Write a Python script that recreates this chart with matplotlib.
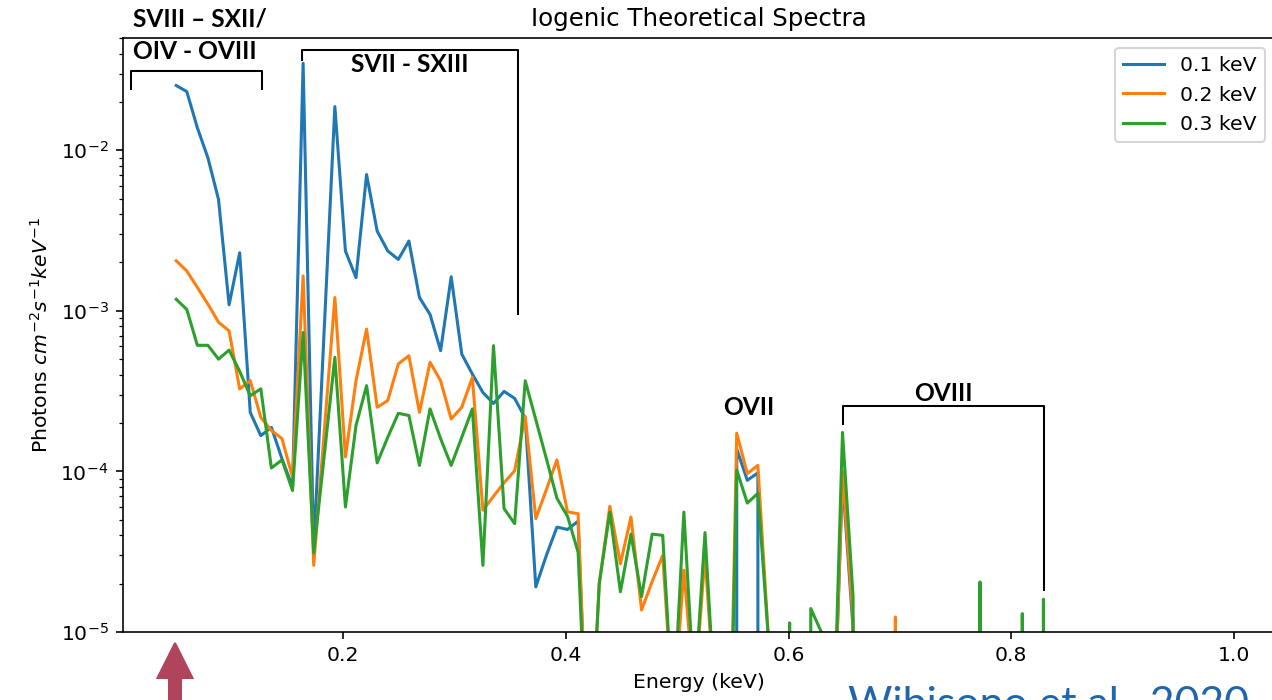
import numpy as np
import matplotlib
matplotlib.use('Agg')
import matplotlib.pyplot as plt
from matplotlib.patches import FancyArrow

# energy grid (keV)
energy = [0.0500, 0.0595, 0.0690, 0.0785, 0.0880, 0.0975, 0.1070, 0.1165, 0.1260, 0.1355,
          0.1450, 0.1545, 0.1640, 0.1735, 0.1830, 0.1925, 0.2020, 0.2115, 0.2210, 0.2305,
          0.2400, 0.2495, 0.2590, 0.2685, 0.2780, 0.2875, 0.2970, 0.3065, 0.3160, 0.3255,
          0.3350, 0.3445, 0.3540, 0.3635, 0.3730, 0.3825, 0.3920, 0.4015, 0.4110, 0.4205,
          0.4300, 0.4395, 0.4490, 0.4585, 0.4680, 0.4775, 0.4870, 0.4965, 0.5060, 0.5155,
          0.5250, 0.5345, 0.5440, 0.5535, 0.5630, 0.5725, 0.5820, 0.5915, 0.6010, 0.6105,
          0.6200, 0.6295, 0.6390, 0.6485, 0.6580, 0.6675, 0.6770, 0.6865, 0.6960, 0.7055,
          0.7150, 0.7245, 0.7340, 0.7435, 0.7530, 0.7625, 0.7720, 0.7815, 0.7910, 0.8005,
          0.8100, 0.8195, 0.8290, 0.8385]

# photons cm^-2 s^-1 keV^-1
flux_01 = [2.53e-2, 2.32e-2, 1.38e-2, 8.96e-3, 4.94e-3, 1.09e-3, 2.30e-3, 2.33e-4, 1.67e-4, 1.88e-4,
           1.20e-4, 8.0e-5, 3.48e-2, 3.2e-5, 7.8e-4, 1.87e-2, 2.36e-3, 1.61e-3, 7.06e-3, 3.14e-3,
           2.36e-3, 2.09e-3, 2.72e-3, 1.21e-3, 9.5e-4, 5.65e-4, 1.63e-3, 5.38e-4, 4.04e-4, 3.10e-4,
           2.65e-4, 3.15e-4, 2.85e-4, 2.15e-4, 1.91e-5, 3.0e-5, 4.5e-5, 4.35e-5, 4.9e-5, 1e-6,
           0, 0, 0, 0, 0, 0, 0, 0, 0, 0,
           0, 0, 0, 1.38e-4, 8.8e-5, 9.8e-5, 0, 0, 0, 0,
           0, 0, 1e-6, 9.0e-5, 1.05e-5, 0, 0, 0, 0, 0,
           0, 0, 0, 0, 0, 0, 0, 0, 0, 0,
           0, 0, 0, 0]
flux_02 = [2.05e-3, 1.77e-3, 1.40e-3, 1.10e-3, 8.5e-4, 7.5e-4, 3.26e-4, 3.68e-4, 2.17e-4, 1.80e-4,
           1.60e-4, 9.2e-5, 1.65e-3, 2.6e-5, 1.78e-4, 1.21e-3, 1.23e-4, 3.67e-4, 7.7e-4, 2.51e-4,
           2.76e-4, 4.67e-4, 5.25e-4, 2.33e-4, 4.78e-4, 3.67e-4, 2.12e-4, 2.51e-4, 3.85e-4, 5.73e-5,
           7.0e-5, 8.5e-5, 1.01e-4, 2.2e-4, 5.08e-5, 7.7e-5, 1.18e-4, 5.6e-5, 5.45e-5, 1e-6,
           2.0e-5, 6.07e-5, 2.66e-5, 5.2e-5, 1.37e-5, 2.06e-5, 3.0e-5, 3e-6, 2.43e-5, 4e-6,
           3.0e-5, 3e-6, 1e-7, 1.73e-4, 9.7e-5, 1.09e-4, 9e-6, 0, 0, 0,
           0, 0, 1e-6, 1.0e-4, 1.2e-5, 0, 0, 0, 1.24e-5, 0,
           0, 0, 0, 0, 0, 0, 0, 0, 0, 0,
           0, 0, 0, 0]
flux_03 = [1.18e-3, 1.02e-3, 6.1e-4, 6.1e-4, 5.0e-4, 5.7e-4, 4.2e-4, 2.96e-4, 3.27e-4, 1.05e-4,
           1.18e-4, 7.6e-5, 7.33e-4, 3.1e-5, 1.26e-4, 5.13e-4, 6.0e-5, 1.93e-4, 3.42e-4, 1.13e-4,
           1.63e-4, 2.3e-4, 2.23e-4, 1.09e-4, 2.45e-4, 1.6e-4, 1.09e-4, 1.63e-4, 2.45e-4, 2.6e-5,
           6.07e-4, 5.86e-5, 4.73e-5, 3.67e-4, 2.1e-4, 1.2e-4, 6.8e-5, 5.25e-5, 3.14e-5, 1e-6,
           2.0e-5, 5.58e-5, 1.78e-5, 4.07e-5, 1.66e-5, 4.07e-5, 4.0e-5, 3e-6, 5.58e-5, 4e-6,
           4.16e-5, 3e-6, 1e-7, 1.02e-4, 6.35e-5, 7.3e-5, 9e-6, 0, 1.14e-5, 0,
           1.4e-5, 1.0e-5, 1e-6, 1.75e-4, 1.66e-5, 0, 0, 0, 0, 0,
           0, 0, 0, 0, 0, 0, 2.05e-5, 0, 0, 0,
           1.3e-5, 0, 1.6e-5, 0]
labels = ['0.1 keV', '0.2 keV', '0.3 keV']

W, H, DPI = 1273, 700, 147


def bracket(ax, x0, x1, y, y_left, y_right):
  ax.plot([x0, x0, x1, x1], [y_left, y, y, y_right], color='black', lw=1, clip_on=False)


def draw():
  fig = plt.figure(figsize=(W / DPI, H / DPI), dpi=DPI)
  ax = fig.add_axes([123 / W, 68 / H, 1152 / W, 594 / H])
  for flux, lab in zip([flux_01, flux_02, flux_03], labels):
    ax.plot(energy, flux, label=lab)
  ax.set_yscale('log', nonpositive='clip')
  ax.set_ylim(1e-5, 0.05)
  ax.set_xlim(0.0022, 1.037)
  ax.set_xticks([0.2, 0.4, 0.6, 0.8, 1.0])
  ax.set_xlabel('Energy (keV)')
  ax.set_ylabel('Photons $cm^{-2}s^{-1}keV^{-1}$')
  ax.set_title('Iogenic Theoretical Spectra')
  ax.legend(loc='upper right')

  # line identifications
  bold = dict(fontsize=12, fontweight='bold', family='Lato', clip_on=False)
  ax.text(0.0112, 0.066, 'SVIII – SXII/', ha='left', va='center', **bold)
  ax.text(0.0112, 0.0412, 'OIV - OVIII', ha='left', va='center', **bold)
  bracket(ax, 0.0094, 0.127, 0.031, 0.0239, 0.0239)
  ax.text(0.260, 0.0342, 'SVII - SXIII', ha='center', va='center', **bold)
  bracket(ax, 0.1633, 0.3568, 0.0418, 0.0367, 9.57e-4)
  ax.text(0.5645, 2.5e-4, 'OVII', ha='center', va='center', **bold)
  ax.text(0.7387, 3.05e-4, 'OVIII', ha='center', va='center', **bold)
  bracket(ax, 0.6488, 0.8297, 2.54e-4, 1.96e-4, 1.82e-5)

  arrow = FancyArrow(175 / W, -0.02, 0, 0.1014, width=12 / W, head_width=35 / W,
                     head_length=35 / H, length_includes_head=True,
                     color='#b0445c', transform=fig.transFigure)
  fig.patches.append(arrow)
  fig.text(848 / W, 1 - 685 / H, 'Wibisono et al., 2020', color='#2166ac',
           fontsize=21, family='Lato', ha='left', va='top')
  fig.savefig('out.png', dpi=DPI)


def main():
  draw()


if __name__ == '__main__':
  main()
